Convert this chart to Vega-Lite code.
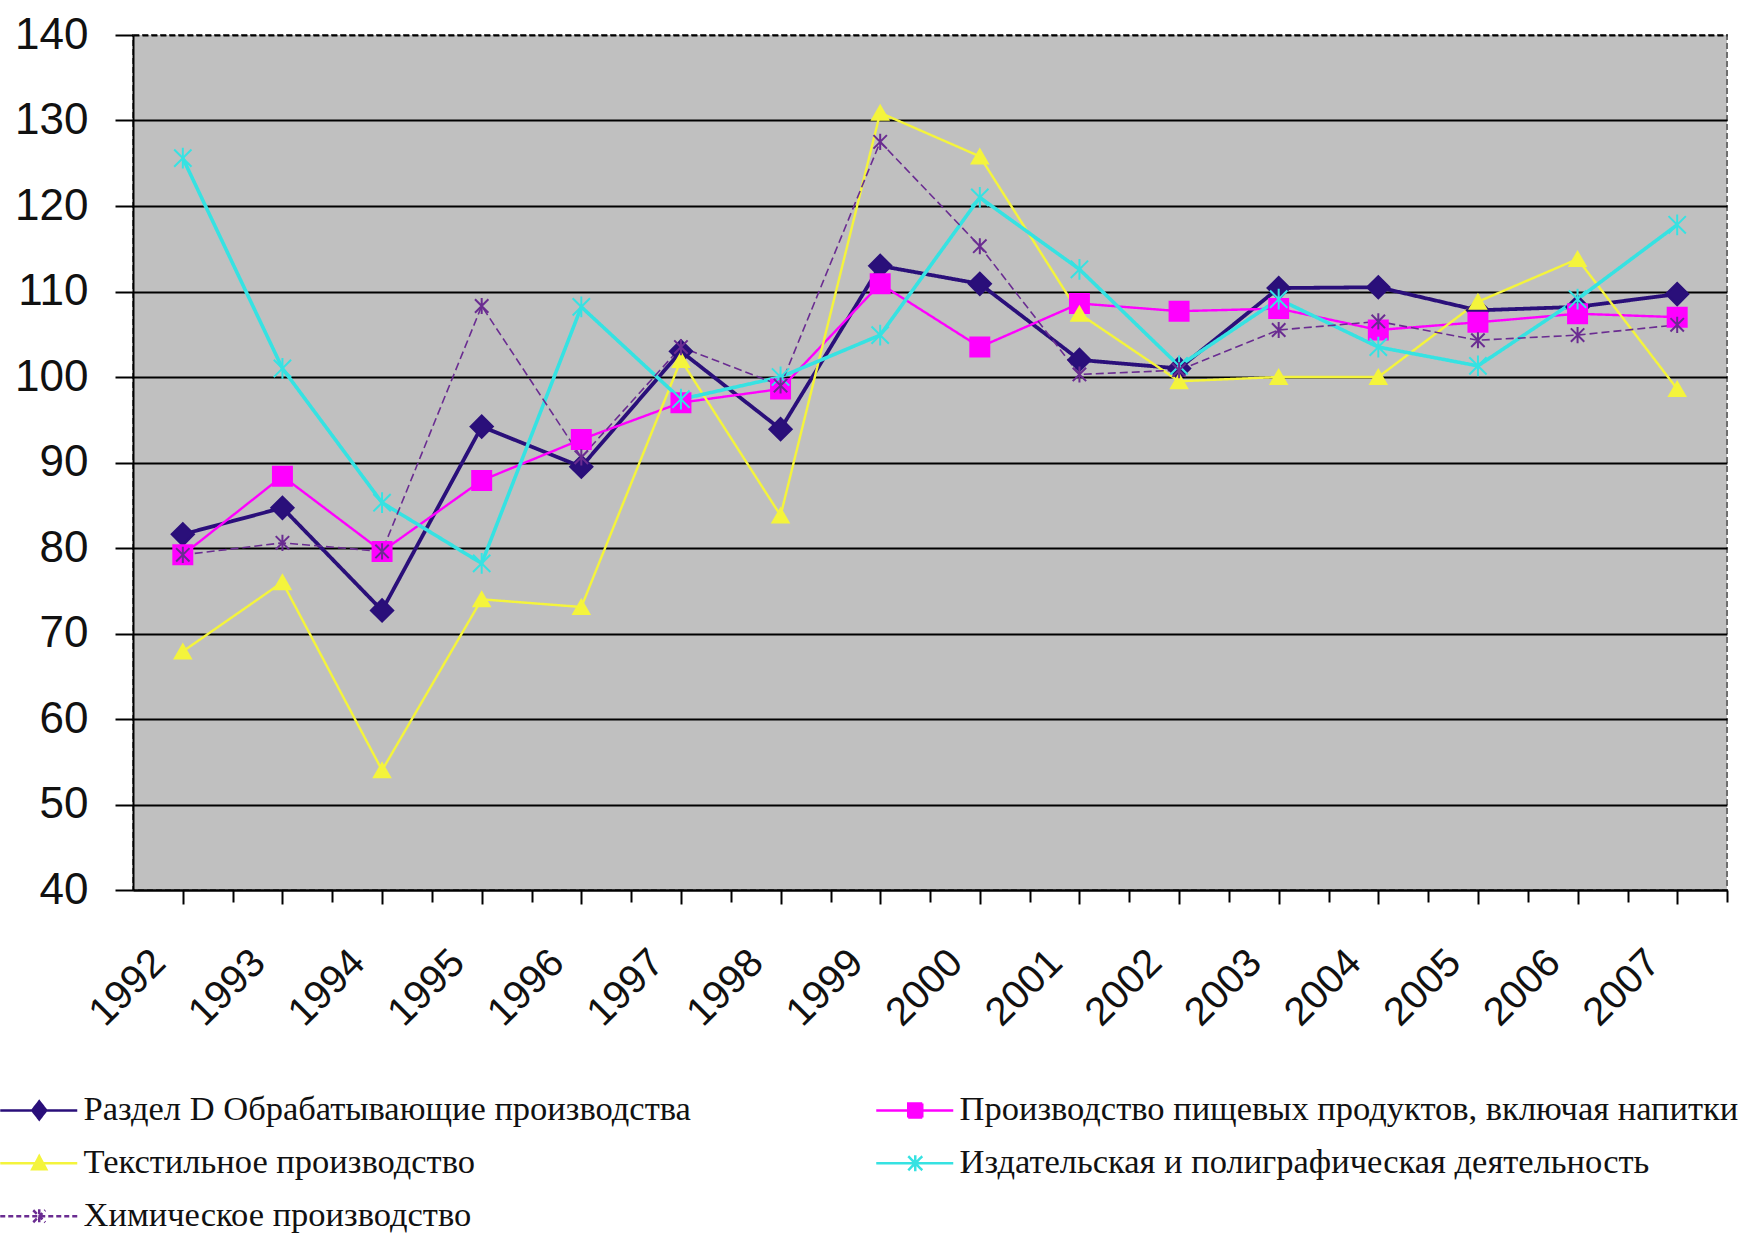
{
  "$schema": "https://vega.github.io/schema/vega-lite/v6.json",
  "width": 1594,
  "height": 855,
  "autosize": {"type": "none"},
  "padding": {"left": 133, "top": 35, "right": 12, "bottom": 349},
  "background": "#FFFFFF",
  "config": {
    "view": {"fill": "#C0C0C0", "stroke": "#6E6E6E", "strokeDash": [6, 3], "strokeWidth": 2},
    "font": "Liberation Sans"
  },
  "data": {
    "values": [
      {"year": "1992", "series": "Раздел D Обрабатывающие производства", "value": 81.6},
      {"year": "1993", "series": "Раздел D Обрабатывающие производства", "value": 84.7},
      {"year": "1994", "series": "Раздел D Обрабатывающие производства", "value": 72.7},
      {"year": "1995", "series": "Раздел D Обрабатывающие производства", "value": 94.2},
      {"year": "1996", "series": "Раздел D Обрабатывающие производства", "value": 89.5},
      {"year": "1997", "series": "Раздел D Обрабатывающие производства", "value": 103.0},
      {"year": "1998", "series": "Раздел D Обрабатывающие производства", "value": 93.9},
      {"year": "1999", "series": "Раздел D Обрабатывающие производства", "value": 113.0},
      {"year": "2000", "series": "Раздел D Обрабатывающие производства", "value": 110.9},
      {"year": "2001", "series": "Раздел D Обрабатывающие производства", "value": 102.0},
      {"year": "2002", "series": "Раздел D Обрабатывающие производства", "value": 101.0},
      {"year": "2003", "series": "Раздел D Обрабатывающие производства", "value": 110.4},
      {"year": "2004", "series": "Раздел D Обрабатывающие производства", "value": 110.5},
      {"year": "2005", "series": "Раздел D Обрабатывающие производства", "value": 107.8},
      {"year": "2006", "series": "Раздел D Обрабатывающие производства", "value": 108.2},
      {"year": "2007", "series": "Раздел D Обрабатывающие производства", "value": 109.7},
      {"year": "1992", "series": "Производство пищевых продуктов, включая напитки", "value": 79.2},
      {"year": "1993", "series": "Производство пищевых продуктов, включая напитки", "value": 88.4},
      {"year": "1994", "series": "Производство пищевых продуктов, включая напитки", "value": 79.6},
      {"year": "1995", "series": "Производство пищевых продуктов, включая напитки", "value": 87.9},
      {"year": "1996", "series": "Производство пищевых продуктов, включая напитки", "value": 92.7},
      {"year": "1997", "series": "Производство пищевых продуктов, включая напитки", "value": 97.0},
      {"year": "1998", "series": "Производство пищевых продуктов, включая напитки", "value": 98.6},
      {"year": "1999", "series": "Производство пищевых продуктов, включая напитки", "value": 110.9},
      {"year": "2000", "series": "Производство пищевых продуктов, включая напитки", "value": 103.5},
      {"year": "2001", "series": "Производство пищевых продуктов, включая напитки", "value": 108.6},
      {"year": "2002", "series": "Производство пищевых продуктов, включая напитки", "value": 107.7},
      {"year": "2003", "series": "Производство пищевых продуктов, включая напитки", "value": 108.0},
      {"year": "2004", "series": "Производство пищевых продуктов, включая напитки", "value": 105.5},
      {"year": "2005", "series": "Производство пищевых продуктов, включая напитки", "value": 106.4},
      {"year": "2006", "series": "Производство пищевых продуктов, включая напитки", "value": 107.4},
      {"year": "2007", "series": "Производство пищевых продуктов, включая напитки", "value": 107.0},
      {"year": "1992", "series": "Текстильное производство", "value": 67.9},
      {"year": "1993", "series": "Текстильное производство", "value": 76.0},
      {"year": "1994", "series": "Текстильное производство", "value": 54.0},
      {"year": "1995", "series": "Текстильное производство", "value": 74.0},
      {"year": "1996", "series": "Текстильное производство", "value": 73.1},
      {"year": "1997", "series": "Текстильное производство", "value": 102.0},
      {"year": "1998", "series": "Текстильное производство", "value": 83.8},
      {"year": "1999", "series": "Текстильное производство", "value": 130.9},
      {"year": "2000", "series": "Текстильное производство", "value": 125.8},
      {"year": "2001", "series": "Текстильное производство", "value": 107.4},
      {"year": "2002", "series": "Текстильное производство", "value": 99.5},
      {"year": "2003", "series": "Текстильное производство", "value": 100.0},
      {"year": "2004", "series": "Текстильное производство", "value": 100.0},
      {"year": "2005", "series": "Текстильное производство", "value": 108.8},
      {"year": "2006", "series": "Текстильное производство", "value": 113.8},
      {"year": "2007", "series": "Текстильное производство", "value": 98.6},
      {"year": "1992", "series": "Издательская и полиграфическая деятельность", "value": 125.6},
      {"year": "1993", "series": "Издательская и полиграфическая деятельность", "value": 101.0},
      {"year": "1994", "series": "Издательская и полиграфическая деятельность", "value": 85.3},
      {"year": "1995", "series": "Издательская и полиграфическая деятельность", "value": 78.2},
      {"year": "1996", "series": "Издательская и полиграфическая деятельность", "value": 108.2},
      {"year": "1997", "series": "Издательская и полиграфическая деятельность", "value": 97.4},
      {"year": "1998", "series": "Издательская и полиграфическая деятельность", "value": 100.0},
      {"year": "1999", "series": "Издательская и полиграфическая деятельность", "value": 104.9},
      {"year": "2000", "series": "Издательская и полиграфическая деятельность", "value": 121.0},
      {"year": "2001", "series": "Издательская и полиграфическая деятельность", "value": 112.6},
      {"year": "2002", "series": "Издательская и полиграфическая деятельность", "value": 101.3},
      {"year": "2003", "series": "Издательская и полиграфическая деятельность", "value": 109.1},
      {"year": "2004", "series": "Издательская и полиграфическая деятельность", "value": 103.5},
      {"year": "2005", "series": "Издательская и полиграфическая деятельность", "value": 101.3},
      {"year": "2006", "series": "Издательская и полиграфическая деятельность", "value": 109.1},
      {"year": "2007", "series": "Издательская и полиграфическая деятельность", "value": 117.8},
      {"year": "1992", "series": "Химическое производство", "value": 79.2},
      {"year": "1993", "series": "Химическое производство", "value": 80.6},
      {"year": "1994", "series": "Химическое производство", "value": 79.6},
      {"year": "1995", "series": "Химическое производство", "value": 108.3},
      {"year": "1996", "series": "Химическое производство", "value": 90.6},
      {"year": "1997", "series": "Химическое производство", "value": 103.5},
      {"year": "1998", "series": "Химическое производство", "value": 99.0},
      {"year": "1999", "series": "Химическое производство", "value": 127.5},
      {"year": "2000", "series": "Химическое производство", "value": 115.3},
      {"year": "2001", "series": "Химическое производство", "value": 100.3},
      {"year": "2002", "series": "Химическое производство", "value": 100.8},
      {"year": "2003", "series": "Химическое производство", "value": 105.5},
      {"year": "2004", "series": "Химическое производство", "value": 106.5},
      {"year": "2005", "series": "Химическое производство", "value": 104.3},
      {"year": "2006", "series": "Химическое производство", "value": 104.9},
      {"year": "2007", "series": "Химическое производство", "value": 106.1}
    ]
  },
  "encoding": {
    "y": {
      "field": "value",
      "type": "quantitative",
      "scale": {"domain": [40, 140], "nice": false, "zero": false},
      "axis": {
        "title": null,
        "values": [40, 50, 60, 70, 80, 90, 100, 110, 120, 130, 140],
        "grid": true,
        "gridColor": "#000000",
        "gridWidth": 2,
        "gridDash": {"condition": {"test": "datum.value === 140", "value": [6, 3]}, "value": []},
        "domainColor": "#000000",
        "domainWidth": 2,
        "tickColor": "#000000",
        "tickWidth": 2,
        "tickSize": 18,
        "labelFont": "Liberation Sans",
        "labelFontSize": 44,
        "labelColor": "#111111",
        "labelPadding": 27
      }
    }
  },
  "layer": [
    {
      "mark": {"type": "line", "strokeJoin": "round"},
      "encoding": {
        "x": {
          "field": "year",
          "type": "ordinal",
          "scale": {"type": "point", "padding": 0.5},
          "axis": {
            "title": null,
            "orient": "bottom",
            "grid": false,
            "labelAngle": -45,
            "labelAlign": "right",
            "labelBaseline": "middle",
            "labelFont": "Liberation Sans",
            "labelFontSize": 40,
            "labelColor": "#111111",
            "labelOffset": -24,
            "labelPadding": 52,
            "tickSize": 14,
            "tickWidth": 2,
            "tickColor": "#000000",
            "domainColor": "#000000",
            "domainWidth": 2
          }
        },
        "color": {
          "field": "series",
          "type": "nominal",
          "scale": {
            "domain": ["Раздел D Обрабатывающие производства", "Текстильное производство", "Химическое производство", "Производство пищевых продуктов, включая напитки", "Издательская и полиграфическая деятельность"],
            "range": ["#2A0F7A", "#F4F43C", "#6A2C91", "#FF00FF", "#36E2E2"]
          },
          "legend": {
            "title": null,
            "orient": "none",
            "legendX": -133,
            "legendY": 1058,
            "columns": 2,
            "columnPadding": 180,
            "rowPadding": 18,
            "padding": 0,
            "symbolOffset": 0,
            "symbolSize": 400,
            "symbolStrokeWidth": 2.5,
            "labelOffset": 49,
            "labelFont": "Liberation Serif",
            "labelFontSize": 34.5,
            "labelColor": "#111111",
            "labelLimit": 2000,
            "encoding": {
              "symbols": {
                "shape": {"value": {"expr": "datum.value === 'Раздел D Обрабатывающие производства' ? 'M-1.7,0L6,0M2.2,-0.9L2.9,0L2.2,0.9L1.5,0Z' : datum.value === 'Производство пищевых продуктов, включая напитки' ? 'M-1.7,0L6,0M1.5,-0.7L2.9,-0.7L2.9,0.7L1.5,0.7Z' : datum.value === 'Текстильное производство' ? 'M-1.7,0L6,0M2.2,-0.7L2.9,0.6L1.5,0.6Z' : datum.value === 'Издательская и полиграфическая деятельность' ? 'M-1.7,0L6,0M1.5,-0.7L2.9,0.7M1.5,0.7L2.9,-0.7M2.2,-0.8L2.2,0.8' : 'M-1.7,0L6,0M1.6,-0.6L2.8,0.6M1.6,0.6L2.8,-0.6M2.2,-0.7L2.2,0.7'"}},
                "fill": {"value": {"expr": "scale('color', datum.value)"}},
                "strokeDash": {"value": {"expr": "datum.value === 'Химическое производство' ? [5, 3] : [1, 0]"}}
              }
            }
          }
        },
        "strokeWidth": {
          "condition": [
            {"test": "datum.series === 'Раздел D Обрабатывающие производства'", "value": 3.8},
            {"test": "datum.series === 'Издательская и полиграфическая деятельность'", "value": 3.6},
            {"test": "datum.series === 'Химическое производство'", "value": 1.6}
          ],
          "value": 2.4
        },
        "strokeDash": {
          "condition": {"test": "datum.series === 'Химическое производство'", "value": [8, 4]},
          "value": [1, 0]
        }
      }
    },
    {
      "mark": {"type": "point", "opacity": 1, "strokeWidth": 2},
      "encoding": {
        "x": {
          "field": "year",
          "type": "ordinal",
          "scale": {"type": "point", "padding": 0.5},
          "axis": {
            "title": null,
            "orient": "bottom",
            "grid": false,
            "labels": false,
            "domain": false,
            "tickOffset": 50,
            "tickSize": 12,
            "tickWidth": 2,
            "tickColor": "#000000"
          }
        },
        "fill": {
          "condition": [
            {"test": "datum.series === 'Раздел D Обрабатывающие производства'", "value": "#2A0F7A"},
            {"test": "datum.series === 'Производство пищевых продуктов, включая напитки'", "value": "#FF00FF"},
            {"test": "datum.series === 'Текстильное производство'", "value": "#F4F43C"}
          ],
          "value": "transparent"
        },
        "stroke": {
          "condition": [
            {"test": "datum.series === 'Раздел D Обрабатывающие производства'", "value": "#2A0F7A"},
            {"test": "datum.series === 'Производство пищевых продуктов, включая напитки'", "value": "#FF00FF"},
            {"test": "datum.series === 'Текстильное производство'", "value": "#F4F43C"},
            {"test": "datum.series === 'Издательская и полиграфическая деятельность'", "value": "#36E2E2"}
          ],
          "value": "#6A2C91"
        },
        "shape": {
          "condition": [
            {"test": "datum.series === 'Раздел D Обрабатывающие производства'", "value": "diamond"},
            {"test": "datum.series === 'Производство пищевых продуктов, включая напитки'", "value": "square"},
            {"test": "datum.series === 'Текстильное производство'", "value": "triangle-up"}
          ],
          "value": "M-1,-1L1,1M-1,1L1,-1M0,-1.2L0,1.2"
        },
        "size": {
          "condition": [
            {"test": "datum.series === 'Раздел D Обрабатывающие производства'", "value": 500},
            {"test": "datum.series === 'Производство пищевых продуктов, включая напитки'", "value": 360},
            {"test": "datum.series === 'Текстильное производство'", "value": 260},
            {"test": "datum.series === 'Химическое производство'", "value": 180}
          ],
          "value": 300
        }
      }
    }
  ],
  "resolve": {"axis": {"x": "independent"}}
}
